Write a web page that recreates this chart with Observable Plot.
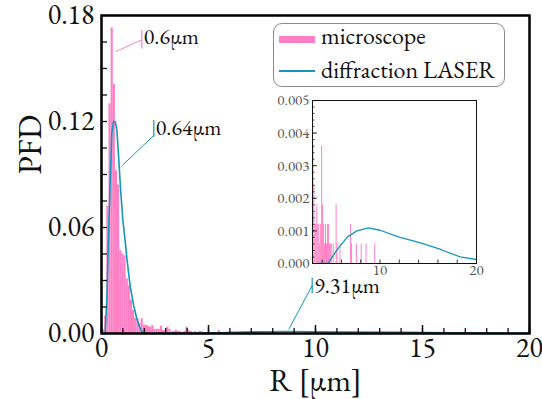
<!DOCTYPE html>
<html><head><meta charset="utf-8">
<script src="https://cdn.jsdelivr.net/npm/d3@7"></script>
<script src="https://cdn.jsdelivr.net/npm/@observablehq/plot@0.6"></script>
<style>
body{margin:0;background:#fff;}
#wrap{position:relative;width:542px;height:399px;overflow:hidden;font-family:"EB Garamond","Liberation Serif",serif;font-variant-numeric:lining-nums;}
#wrap > svg{position:absolute;}
#wrap svg text{font-family:"EB Garamond","Liberation Serif",serif;font-variant-numeric:lining-nums;}
#legend{position:absolute;left:273px;top:23px;width:232px;height:64px;border:1px solid #8a8a8a;border-radius:9px;background:#fff;box-sizing:border-box;}
#legend .sw{position:absolute;left:5px;width:36px;}
#legend .lb{position:absolute;left:47px;font-size:24px;line-height:24px;white-space:nowrap;color:#111;}
</style></head><body><div id="wrap"></div>
<script>
// ---- data ----
const binCenter = [0.1,0.2,0.3,0.4,0.5,0.6,0.7,0.8,0.9,1.0,1.1,1.2,1.3,1.4,1.5,1.6,1.7,1.8,1.9,2.0,2.1,2.2,2.3,2.4,2.5,2.6,2.7,2.8,2.9,3.0,
  3.1,3.2,3.3,3.4,3.5,3.6,3.7,3.8,3.9,4.0,4.1,4.2,4.3,4.4,4.5,4.6,4.7,4.8,4.9,5.0,
  5.2,5.5,5.6,5.9,7.0,7.1,7.6,8.1,8.6,9.5];
const binPFD = [0.002,0.010,0.072,0.130,0.173,0.141,0.092,0.084,0.047,0.045,0.044,0.031,0.027,0.019,0.013,0.0085,0.0085,0.0055,0.0083,0.0048,
  0.0045,0.0042,0.0036,0.0045,0.0024,0.0024,0.0024,0.0042,0.0018,0.0018,
  0.0036,0.0024,0.0012,0.0012,0.0018,0.0012,0.0012,0.0006,0.0012,0.0036,
  0.0018,0.0012,0.0006,0.0012,0.0006,0.0012,0.0012,0.0006,0.0006,0.0006,
  0.0006,0.0018,0.0006,0.0006,0.0012,0.0006,0.0006,0.0006,0.0006,0.0006];
const binWidth = 0.1;
const laserR   = [0.1,0.17,0.25,0.33,0.4,0.48,0.56,0.64,0.72,0.8,0.9,1.0,1.1,1.2,1.34,1.5,1.65,1.8,1.95,2.5,3.5,4.6,5.5,6.6,7.6,8.8,10,12,14.2,16.3,18.3,20];
const laserPFD = [0,0,0.02,0.055,0.083,0.113,0.12,0.12,0.115,0.10,0.08,0.064,0.053,0.041,0.027,0.016,0.0085,0.003,0,0,0,0,0.0004,0.00081,0.001,0.00109,0.00102,0.00081,0.00063,0.00043,0.0002,0.00012];

const xTicksMain = [0,5,10,15,20];
const yTicksMain = [0,0.06,0.12,0.18];
const xMinorMain = d3.range(0,21,1);
const yMinorMain = d3.range(0,13).map(i=>i*0.015);
const insetXTicks = [10,20];
const insetXMinor = [4,6,8,10,12,14,16,18,20];
const insetYTicks = [0,0.001,0.002,0.003,0.004,0.005];
const insetYMinor = d3.range(0,26).map(i=>i*0.0002);

const noteLabel = ["0.6µm","0.64µm","9.31µm"];
const noteColor = ["#ff7ec4","#1597bb","#1597bb"];
const noteFromR = [0.668,0.967,8.75];
const noteFromP = [0.1596,0.0951,0.0023];
const noteToR   = [1.883,2.444,9.846];
const noteToP   = [0.1662,0.1121,0.0272];
const noteTickLo = [0.1611,0.1111,0.0225];
const noteTickHi = [0.1715,0.1206,0.0313];
const noteTextP  = [0.1636,0.1121,0.0231];

const PINK = "#ff7ec4", BLUE = "#1597bb";
const bins = binCenter.map((c,i)=>({c, v: binPFD[i]}));
const laser = laserR.map((r,i)=>({r, v: laserPFD[i]}));
const notes = noteLabel.map((label,i)=>({label, color: noteColor[i], x1: noteFromR[i], y1: noteFromP[i], x2: noteToR[i], y2: noteToP[i], t1: noteTickLo[i], t2: noteTickHi[i], ty: noteTextP[i]}));

// ---- main chart ----
const W=542,H=399,mL=101,mR=13,mT=15,mB=66;
const iW=W-mL-mR, iH=H-mT-mB;
const FONT = "'EB Garamond', 'Liberation Serif', serif";
const main = Plot.plot({
  width: W, height: H, marginLeft: mL, marginRight: mR, marginTop: mT, marginBottom: mB,
  x: {domain:[0,20], axis:null},
  y: {domain:[0,0.18], axis:null},
  color: {type:"identity"},
  style: {fontFamily: FONT, background:"white", overflow:"visible", color:"#111"},
  marks: [
    Plot.rectY(bins, {x1: d=>d.c-binWidth/2, x2: d=>d.c+binWidth/2, y: "v", fill: PINK}),
    Plot.line(laser, {x:"r", y:"v", stroke: BLUE, strokeWidth: 1.6}),
    Plot.tickX(xMinorMain, {x: d=>d, insetTop: iH-5, stroke:"#111", strokeWidth:1.3}),
    Plot.tickX(xTicksMain, {x: d=>d, insetTop: iH-8, stroke:"#111", strokeWidth:1.5}),
    Plot.tickY(yMinorMain, {y: d=>d, insetRight: iW-6, stroke:"#111", strokeWidth:1.3}),
    Plot.frame({stroke:"#000", strokeWidth:2.5}),
    Plot.text(xTicksMain, {x: d=>d, frameAnchor:"bottom", dy:23, lineAnchor:"bottom", fontSize:28, text: d=>String(d), fill:"#111"}),
    Plot.text(yTicksMain, {y: d=>d, frameAnchor:"left", dx:-7, textAnchor:"end", lineAnchor:"middle", fontSize:28, text: d=>d.toFixed(2), fill:"#111"}),
    Plot.text(["PFD"], {frameAnchor:"left", dx:-71, rotate:-90, fontSize:33, text: d=>d, fill:"#111"}),
    Plot.text(["R [µm]"], {frameAnchor:"bottom", dy:57, lineAnchor:"bottom", fontSize:32, text: d=>d, fill:"#111"}),
    Plot.link(notes, {x1:"x1", y1:"y1", x2:"x2", y2:"y2", stroke:"color", strokeWidth:1}),
    Plot.ruleX(notes, {x:"x2", y1:"t1", y2:"t2", stroke:"color", strokeWidth:1.2}),
    Plot.text(notes, {x:"x2", y:"ty", text:"label", dx:2, textAnchor:"start", lineAnchor:"bottom", fontSize:22, fill:"#111"})
  ]
});
main.style.left="0px"; main.style.top="0px";
document.getElementById("wrap").appendChild(main);

// ---- inset ----
const iL=52, iR=14, iT=6, iB=26, inW=164, inH=163;
const inset = Plot.plot({
  width: iL+inW+iR, height: iT+inH+iB, marginLeft:iL, marginRight:iR, marginTop:iT, marginBottom:iB,
  x: {domain:[3,20], axis:null},
  y: {domain:[0,0.005], axis:null},
  style: {fontFamily: FONT, background:"transparent", overflow:"visible"},
  marks: [
    Plot.frame({fill:"white", stroke:"none"}),
    Plot.rectY(bins.filter(d=>d.c>3.02), {x1: d=>d.c-binWidth/2, x2: d=>d.c+binWidth/2, y:"v", fill: PINK, clip:true}),
    Plot.line(laser.filter(d=>d.r>=3.5), {x:"r", y:"v", stroke: BLUE, strokeWidth:1.3, clip:true}),
    Plot.tickY(insetYMinor, {y:d=>d, insetRight: inW-2.5, stroke:"#222", strokeWidth:0.8}),
    Plot.tickY(insetYTicks, {y:d=>d, insetRight: inW-5, stroke:"#222", strokeWidth:0.9}),
    Plot.tickX(insetXMinor, {x:d=>d, insetTop: inH-3.5, stroke:"#222", strokeWidth:0.9}),
    Plot.frame({stroke:"#111", strokeWidth:1}),
    Plot.text(insetYTicks, {y:d=>d, frameAnchor:"left", dx:-3, textAnchor:"end", lineAnchor:"middle", fontSize:15, fill:"#555", text:d=>d.toFixed(3)}),
    Plot.text(insetXTicks, {x:d=>d, frameAnchor:"bottom", dy:11, lineAnchor:"bottom", fontSize:15, fill:"#555", text:d=>String(d)})
  ]
});
inset.style.left=(312-iL)+"px"; inset.style.top=(100-iT)+"px";
document.getElementById("wrap").appendChild(inset);

// ---- legend ----
const legendItems = ["microscope","diffraction LASER"];
const lg = document.createElement("div"); lg.id="legend";
lg.innerHTML =
  `<div class="sw" style="top:12px;height:7px;background:${PINK}"></div>`+
  `<div class="lb" style="top:0px">${legendItems[0]}</div>`+
  `<div class="sw" style="top:46px;height:1.6px;background:${BLUE}"></div>`+
  `<div class="lb" style="top:34px">${legendItems[1]}</div>`;
document.getElementById("wrap").appendChild(lg);
</script></body></html>
